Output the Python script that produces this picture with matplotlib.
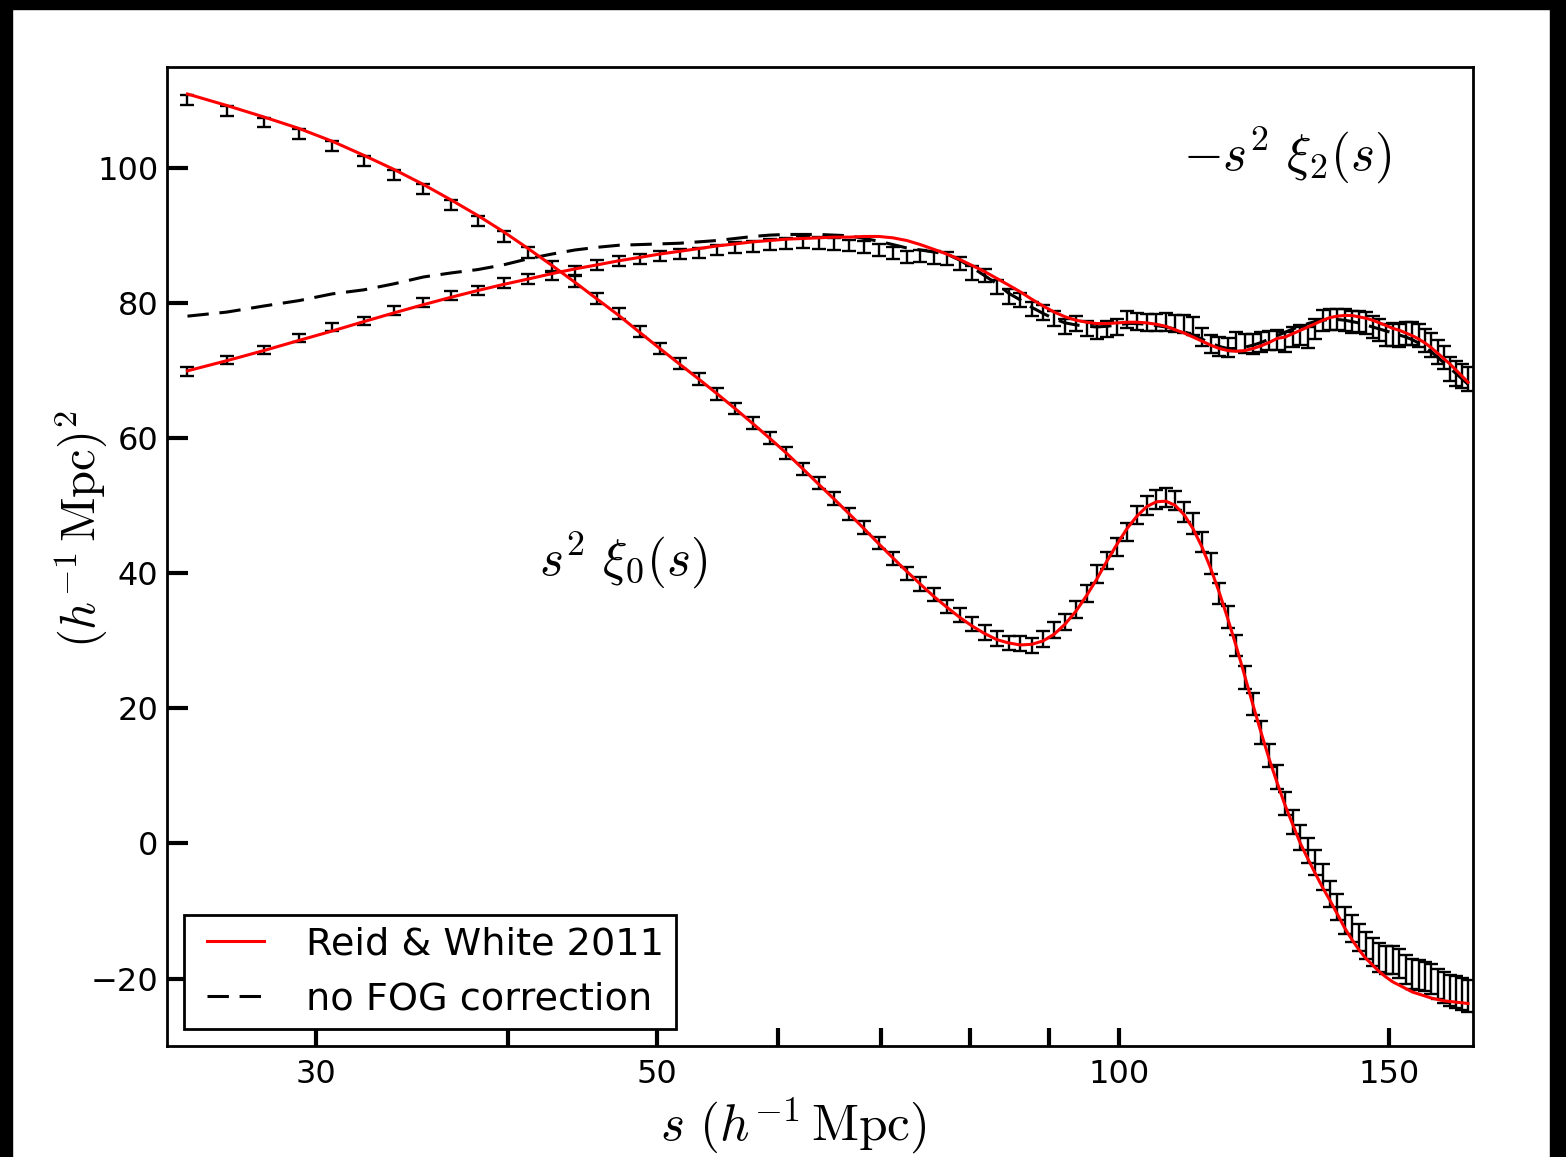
import numpy as np
import matplotlib.pyplot as plt
from matplotlib.patches import Rectangle
from matplotlib.legend_handler import HandlerLine2D
from matplotlib.ticker import FixedLocator, NullFormatter

plt.rcParams["mathtext.fontset"] = "cm"
plt.rcParams["font.family"] = ["DejaVu Sans"]

# ----------------------------------------------------
# Data
# ----------------------------------------------------

# bin centres, 1.5 h^-1 Mpc wide bins from 24 to 169.5
s = np.arange(24.75, 169.0, 1.5)

# s^2 xi_0(s), measured
xi0 = [
    110.1, 108.5, 106.8, 105.1, 103.3, 101.1, 99.0, 96.9, 94.6, 92.2,
    89.9, 87.5, 85.4, 83.2, 80.7, 78.5, 75.8, 73.3, 71.1, 68.8,
    66.6, 64.4, 62.3, 60.1, 57.8, 55.5, 53.4, 51.1, 48.8, 46.8,
    44.5, 42.2, 40.0, 38.4, 36.9, 35.1, 33.8, 32.5, 31.3, 30.3,
    29.7, 29.6, 29.3, 30.3, 31.6, 32.8, 34.7, 37.0, 39.9, 41.9,
    43.9, 46.1, 48.6, 50.1, 50.9, 51.3, 50.8, 49.1, 47.4, 44.6,
    41.4, 37.0, 33.5, 29.3, 24.6, 20.7, 16.5, 13.0, 9.8, 5.9,
    3.2, 0.9, -1.0, -2.8, -5.0, -7.5, -9.4, -11.4, -12.6, -13.9,
    -15.1, -16.1, -16.9, -17.3, -17.3, -17.8, -18.6, -19.3, -19.5, -19.7,
    -20.1, -20.8, -21.3, -21.8, -22.0, -22.3, -22.6,
]
xi0_err = [
    0.7, 0.7, 0.7, 0.7, 0.7, 0.7, 0.75, 0.75, 0.75, 0.75,
    0.8, 0.8, 0.8, 0.8, 0.8, 0.8, 0.85, 0.85, 0.85, 0.85,
    0.85, 0.85, 0.9, 0.9, 0.9, 0.9, 0.9, 0.9, 0.95, 0.95,
    0.95, 0.95, 1.0, 1.0, 1.0, 1.0, 1.05, 1.05, 1.1, 1.1,
    1.1, 1.15, 1.15, 1.2, 1.2, 1.2, 1.25, 1.25, 1.3, 1.3,
    1.3, 1.35, 1.35, 1.4, 1.4, 1.4, 1.45, 1.45, 1.5, 1.5,
    1.55, 1.55, 1.6, 1.6, 1.65, 1.65, 1.7, 1.7, 1.75, 1.75,
    1.8, 1.8, 1.85, 1.85, 1.9, 1.9, 1.95, 1.95, 2.0, 2.0,
    2.05, 2.05, 2.1, 2.1, 2.1, 2.15, 2.15, 2.2, 2.2, 2.2,
    2.25, 2.25, 2.3, 2.3, 2.3, 2.35, 2.35,
]

# -s^2 xi_2(s), measured
xi2 = [
    69.9, 71.6, 73.1, 74.8, 76.5, 77.4, 78.9, 80.1, 81.1, 81.9,
    83.0, 83.6, 84.1, 84.9, 85.7, 86.3, 86.5, 87.0, 87.3, 87.4,
    87.9, 88.3, 88.4, 88.7, 88.9, 89.1, 88.9, 88.8, 88.6, 88.4,
    87.9, 87.4, 86.8, 87.0, 86.8, 86.6, 85.9, 84.5, 84.1, 82.4,
    81.0, 80.5, 79.2, 78.7, 77.7, 76.6, 77.0, 76.3, 75.8, 76.2,
    76.5, 77.6, 77.3, 77.2, 77.2, 77.2, 77.0, 76.9, 76.6, 75.0,
    74.0, 73.6, 73.5, 74.3, 74.1, 74.0, 74.3, 74.5, 74.6, 74.3,
    75.0, 75.3, 75.0, 76.2, 77.5, 77.6, 77.6, 77.5, 77.2, 77.3,
    77.1, 76.5, 76.0, 75.3, 75.4, 75.3, 75.5, 75.6, 75.3, 74.5,
    73.8, 72.8, 72.0, 70.3, 69.6, 69.2, 68.8,
]
xi2_err = [
    0.6, 0.6, 0.6, 0.6, 0.6, 0.6, 0.65, 0.65, 0.65, 0.65,
    0.7, 0.7, 0.7, 0.7, 0.7, 0.7, 0.75, 0.75, 0.75, 0.75,
    0.8, 0.8, 0.8, 0.8, 0.8, 0.85, 0.85, 0.85, 0.85, 0.9,
    0.9, 0.9, 0.9, 0.95, 0.95, 0.95, 1.0, 1.0, 1.0, 1.0,
    1.05, 1.05, 1.05, 1.1, 1.1, 1.1, 1.15, 1.15, 1.15, 1.2,
    1.2, 1.2, 1.25, 1.25, 1.25, 1.3, 1.3, 1.3, 1.35, 1.35,
    1.35, 1.4, 1.4, 1.4, 1.4, 1.45, 1.45, 1.45, 1.5, 1.5,
    1.5, 1.5, 1.55, 1.55, 1.55, 1.55, 1.6, 1.6, 1.6, 1.6,
    1.65, 1.65, 1.65, 1.65, 1.7, 1.7, 1.7, 1.7, 1.7, 1.75,
    1.75, 1.75, 1.75, 1.8, 1.8, 1.8, 1.8,
]

# Reid & White 2011 model
model0 = [
    111.0, 109.3, 107.6, 105.9, 104.0, 101.9, 99.8, 97.6, 95.3, 93.0,
    90.6, 88.1, 85.6, 83.1, 80.6, 78.2, 75.7, 73.3, 71.0, 68.8,
    66.6, 64.4, 62.2, 60.0, 57.8, 55.5, 53.2, 51.0, 48.8, 46.6,
    44.4, 42.3, 40.3, 38.4, 36.6, 35.0, 33.5, 32.2, 31.1, 30.2,
    29.7, 29.4, 29.5, 30.0, 31.0, 32.5, 34.4, 36.7, 39.2, 41.9,
    44.4, 46.7, 48.5, 49.9, 50.6, 50.7, 50.1, 48.7, 46.6, 43.9,
    40.7, 37.1, 33.2, 29.1, 24.8, 20.5, 16.4, 12.5, 9.0, 5.7,
    2.8, 0.0, -2.3, -4.5, -6.6, -8.5, -10.5, -12.5, -14.2, -15.7,
    -17.0, -18.0, -19.0, -19.8, -20.5, -21.0, -21.5, -22.0, -22.3, -22.6,
    -22.9, -23.1, -23.3, -23.4, -23.5, -23.6, -23.7,
]
model2 = [
    70.0, 71.5, 73.0, 74.5, 75.9, 77.3, 78.6, 79.8, 80.9, 81.9,
    82.8, 83.6, 84.4, 85.1, 85.7, 86.3, 86.8, 87.3, 87.7, 88.1,
    88.5, 88.8, 89.1, 89.3, 89.5, 89.6, 89.7, 89.8, 89.8, 89.9,
    89.9, 89.7, 89.3, 88.7, 88.0, 87.3, 86.5, 85.6, 84.7, 83.7,
    82.7, 81.7, 80.6, 79.6, 78.7, 78.0, 77.5, 77.2, 77.0, 77.0,
    77.1, 77.2, 77.2, 77.1, 76.9, 76.6, 76.1, 75.6, 75.0, 74.4,
    73.8, 73.3, 73.0, 72.9, 73.0, 73.3, 73.7, 74.2, 74.8, 75.0,
    75.5, 76.0, 76.5, 77.0, 77.5, 77.9, 78.1, 78.2, 78.2, 78.0,
    77.8, 77.5, 77.1, 76.7, 76.3, 76.0, 75.6, 75.2, 74.7, 74.1,
    73.4, 72.6, 71.8, 71.0, 70.1, 69.2, 68.3,
]

# quadrupole model without Fingers-of-God correction
nofog2 = [
    78.1, 78.7, 79.6, 80.4, 81.4, 82.0, 82.9, 83.9, 84.5, 85.0,
    85.7, 86.6, 87.3, 87.9, 88.3, 88.6, 88.7, 88.8, 88.9, 89.1,
    89.3, 89.6, 89.9, 90.1, 90.2, 90.2, 90.2, 90.1, 90.0, 89.6,
    89.2, 88.7, 88.2, 87.9, 87.6, 87.3, 86.4, 85.3, 84.1, 82.9,
    81.5, 80.5, 79.4, 78.5, 77.7, 77.1, 76.8, 76.6, 76.5, 76.6,
    76.8, 77.0, 77.0, 76.9, 76.7, 76.5, 76.2, 75.8, 75.3, 74.7,
    74.1, 73.6, 73.3, 73.3, 73.5, 73.8, 74.2, 74.7, 75.2, 75.7,
    76.2, 76.6, 77.0, 77.3, 77.5, 77.6, 77.6, 77.5, 77.3, 77.1,
    76.8, 76.5, 76.2, 75.9, 75.6, 75.3, 75.0, 74.6, 74.1, 73.5,
    72.8, 72.0, 71.2, 70.4, 69.6, 68.8, 68.0,
]

x_major = [30, 50, 100, 150]
x_minor = [40, 60, 70, 80, 90]
y_ticks = [-20, 0, 20, 40, 60, 80, 100]

# ----------------------------------------------------
# Figure
# ----------------------------------------------------

fig = plt.figure(figsize=(15.66, 11.57), dpi=100)
ax = fig.add_axes([0.1066, 0.0959, 0.834, 0.8462])

eb_style = dict(
    fmt="none",
    ecolor="black",
    elinewidth=1.7,
    capsize=5.2,
    capthick=1.7,
    zorder=2,
)

ax.errorbar(s, xi0, yerr=xi0_err, **eb_style)
ax.errorbar(s, xi2, yerr=xi2_err, **eb_style)

ax.plot(
    s,
    nofog2,
    color="black",
    lw=2.2,
    dashes=(7, 3.5),
    zorder=3,
    label="no FOG correction",
)

ax.plot(s, model0, color="red", lw=2.2, zorder=4, label="Reid & White 2011")
ax.plot(s, model2, color="red", lw=2.2, zorder=4)

# ----------------------------------------------------
# Axes
# ----------------------------------------------------

ax.set_xscale("log")
ax.set_xlim(24, 170)
ax.set_ylim(-30, 115)

ax.xaxis.set_major_locator(FixedLocator(x_major))
ax.xaxis.set_minor_locator(FixedLocator(x_minor))
ax.xaxis.set_major_formatter(plt.FixedFormatter([str(v) for v in x_major]))
ax.xaxis.set_minor_formatter(NullFormatter())
ax.set_yticks(y_ticks)

ax.tick_params(axis="x", which="both", direction="in", length=13, width=3,
               labelsize=23, pad=9, top=False)
ax.tick_params(axis="y", which="both", direction="in", length=15, width=3,
               labelsize=23, pad=6, right=False)

for spine in ax.spines.values():
    spine.set_linewidth(2)

ax.set_xlabel(r"$s\ (h^{-1}\,\mathrm{Mpc})$", fontsize=37)
ax.xaxis.set_label_coords(0.48, -0.051)
ax.set_ylabel(r"$(h^{-1}\,\mathrm{Mpc})^2$", fontsize=35)
ax.yaxis.set_label_coords(-0.044, 0.528)

ax.text(0.858, 0.911, r"$-s^2\ \xi_2(s)$", transform=ax.transAxes,
        fontsize=37, ha="center", va="center")
ax.text(0.349, 0.497, r"$s^2\ \xi_0(s)$", transform=ax.transAxes,
        fontsize=37, ha="center", va="center")

handles, labels = ax.get_legend_handles_labels()
leg = ax.legend(
    handles[::-1],
    labels[::-1],
    loc="lower left",
    fontsize=27.5,
    frameon=True,
    fancybox=False,
    edgecolor="black",
    framealpha=1,
    handlelength=1.8,
    handletextpad=1.1,
    borderaxespad=0.45,
    borderpad=0.3,
    labelspacing=0.5,
    handler_map={plt.Line2D: HandlerLine2D(xpad=0.3)},
)
leg.get_frame().set_linewidth(2)

# dark border around the screenshot
for rect in [(0, 0, 12 / 1566, 1), (0, 1 - 9 / 1157, 1, 9 / 1157),
             (1550 / 1566, 0, 16 / 1566, 1)]:
    fig.patches.append(Rectangle(rect[:2], rect[2], rect[3],
                                 transform=fig.transFigure,
                                 color="black", zorder=10))

fig.savefig("out.png", dpi=100)
